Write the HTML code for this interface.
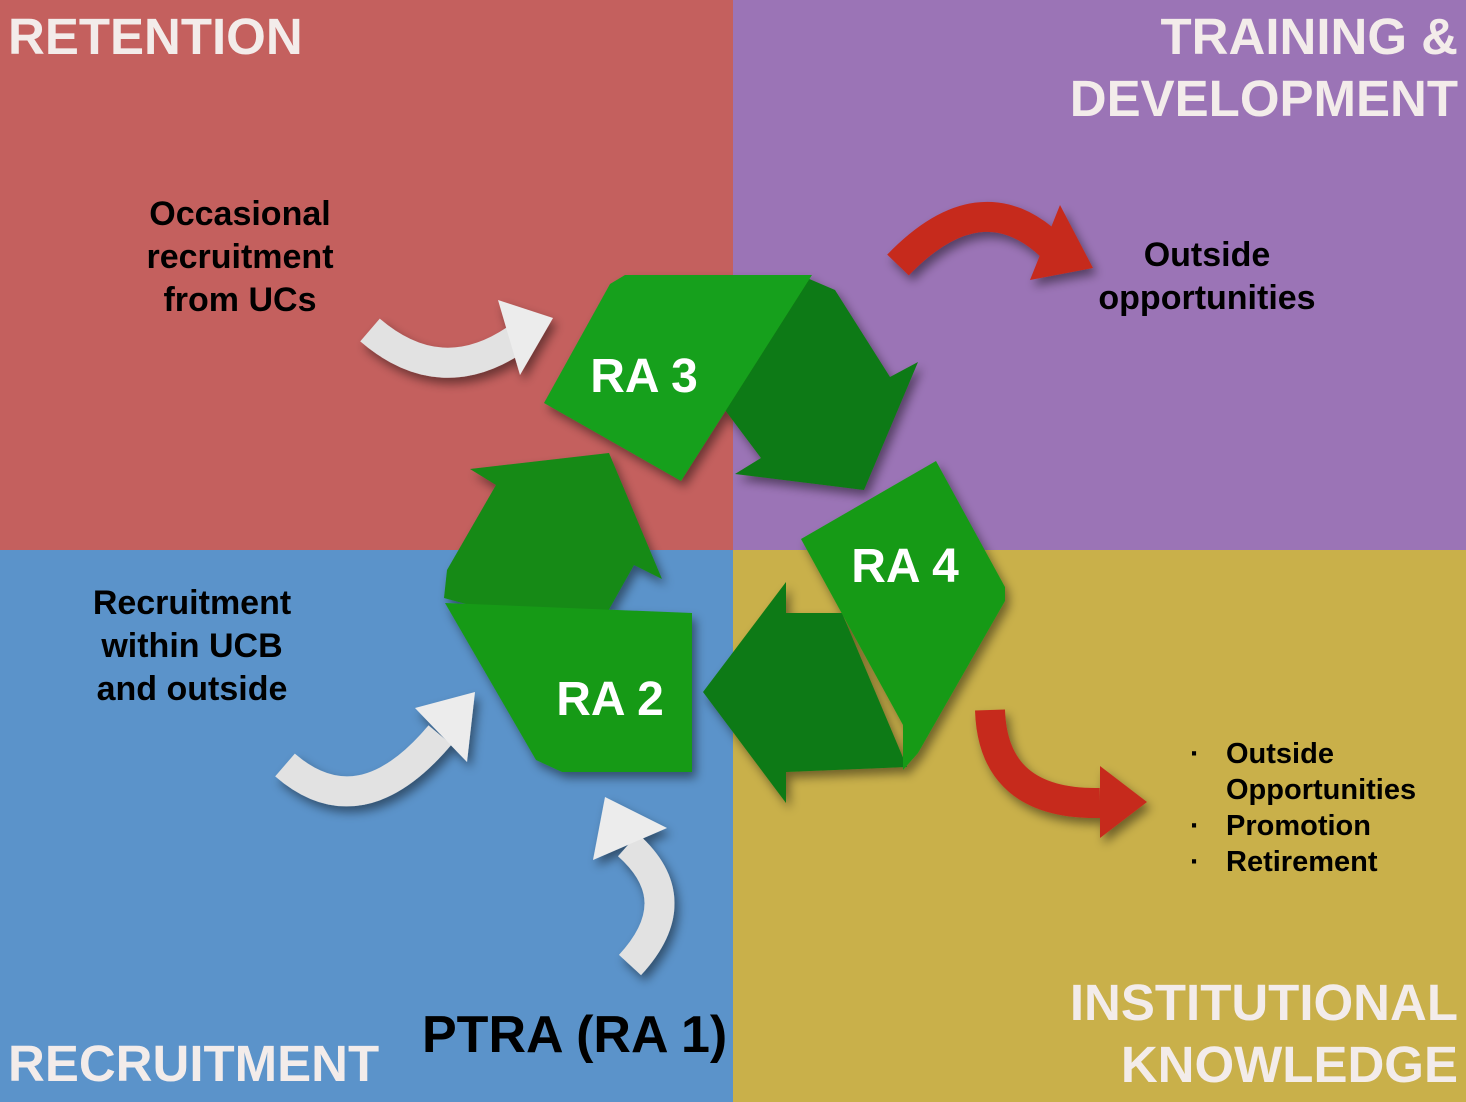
<!DOCTYPE html>
<html><head><meta charset="utf-8"><style>
body{margin:0;width:1466px;height:1102px;overflow:hidden;font-family:"Liberation Sans",sans-serif;}
.q{position:absolute;}
.t{position:absolute;font-weight:bold;color:#f3ecea;font-size:51px;line-height:62px;}
.l{position:absolute;font-weight:bold;color:#000;font-size:34px;line-height:43px;text-align:center;}
.b{position:absolute;left:1190px;font-weight:bold;font-size:29px;}
.b span{position:absolute;left:36px;white-space:nowrap;}
</style></head><body>
<div class="q" style="left:0;top:0;width:733px;height:550px;background:#C4605E"></div>
<div class="q" style="left:733px;top:0;width:733px;height:550px;background:#9B74B6"></div>
<div class="q" style="left:0;top:550px;width:733px;height:552px;background:#5B93CA"></div>
<div class="q" style="left:733px;top:550px;width:733px;height:552px;background:#C9B04A"></div>
<svg class="q" style="left:0;top:0" width="1466" height="1102">
<defs><filter id="s"><feDropShadow dx="4" dy="6" stdDeviation="5" flood-opacity="0.45"/></filter></defs>
<g filter="url(#s)">
<path d="M370,330 Q440,390 515,340" stroke="#e2e2e2" stroke-width="30" fill="none"/>
<polygon points="498,300 553,318 520,375" fill="#ececec"/>
<path d="M285,765 Q360,830 440,735" stroke="#e2e2e2" stroke-width="30" fill="none"/>
<polygon points="415,708 475,692 467,762" fill="#ececec"/>
<path d="M630,965 Q690,900 628,845" stroke="#e2e2e2" stroke-width="30" fill="none"/>
<polygon points="593,860 605,797 667,828" fill="#ececec"/>
<path d="M898,265 Q980,180 1050,245" stroke="#C62A1E" stroke-width="30" fill="none"/>
<polygon points="1060,205 1093,268 1030,280" fill="#C62A1E"/>
<path d="M990,710 Q993,805 1100,803" stroke="#C62A1E" stroke-width="30" fill="none"/>
<polygon points="1100,766 1147,802 1100,838" fill="#C62A1E"/>
<polygon points="800,275 835,290 890,377 918,362 864,490 735,474 761,458 725,410 770,320" fill="#0f7a12"/>
<polygon points="544,403 610,284 625,275 812,275 681,481" fill="#19a01c"/>
<polygon points="470,469 609,453 662,579 634,565 607,613 499,613 444,598 447,570 496,485" fill="#138a15"/>
<polygon points="445,603 692,613 692,772 562,772 536,760" fill="#179a19"/>
<polygon points="786,582 786,613 842,613 907,767 786,772 786,803 703,692" fill="#0f7a12"/>
<polygon points="801,539 936,461 1005,587 1005,601 918,753 903,770 903,725" fill="#179a19"/>
</g>
<g font-family="Liberation Sans" font-weight="bold" font-size="48" fill="#fff" text-anchor="middle">
<text x="644" y="392">RA 3</text><text x="610" y="715">RA 2</text><text x="905" y="582">RA 4</text>
</g>
</svg>
<div class="t" style="left:8px;top:6px">RETENTION</div>
<div class="t" style="right:8px;top:6px;text-align:right">TRAINING &amp;<br>DEVELOPMENT</div>
<div class="t" style="left:8px;top:1033px">RECRUITMENT</div>
<div class="t" style="right:8px;top:972px;text-align:right">INSTITUTIONAL<br>KNOWLEDGE</div>
<div class="l" style="left:90px;width:300px;top:193px">Occasional<br>recruitment<br>from UCs</div>
<div class="l" style="left:1057px;width:300px;top:234px">Outside<br>opportunities</div>
<div class="l" style="left:42px;width:300px;top:582px">Recruitment<br>within UCB<br>and outside</div>
<div class="b" style="top:738px">·<span>Outside</span></div>
<div class="b" style="top:774px"><span>Opportunities</span></div>
<div class="b" style="top:810px">·<span>Promotion</span></div>
<div class="b" style="top:846px">·<span>Retirement</span></div>
<div style="position:absolute;left:422px;top:1004px;font-weight:bold;font-size:52px;line-height:62px">PTRA (RA 1)</div>
</body></html>
